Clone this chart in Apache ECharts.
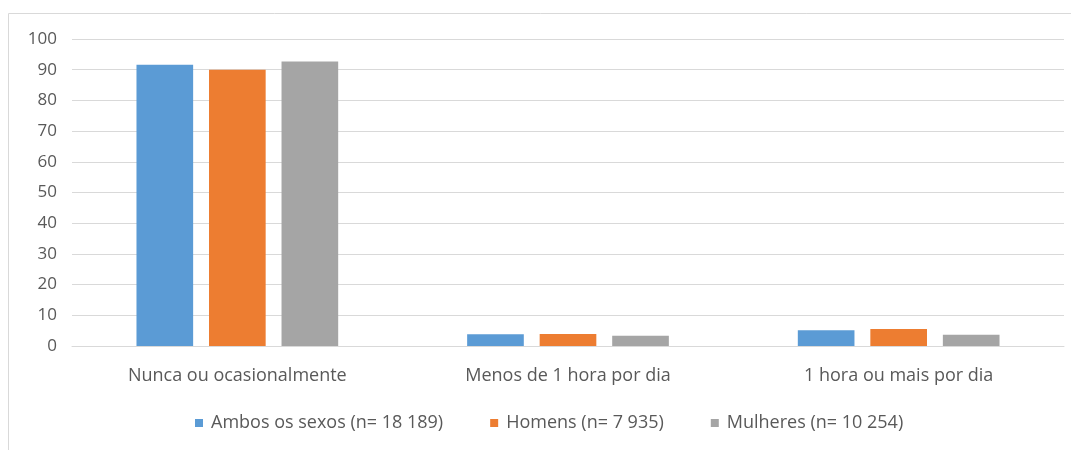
<!DOCTYPE html>
<html>
<head>
<meta charset="utf-8">
<script src="https://cdn.jsdelivr.net/npm/echarts@6/dist/echarts.min.js"></script>
<style>html,body{margin:0;padding:0;background:#fff;}#c{width:1071px;height:450px;}</style>
</head>
<body>
<div id="c"></div>
<script>
var categories = ['Nunca ou ocasionalmente', 'Menos de 1 hora por dia', '1 hora ou mais por dia'];
var seriesNames = ['Ambos os sexos (n= 18 189)', 'Homens (n= 7 935)', 'Mulheres (n= 10 254)'];
var ambos = [91.6, 3.8, 5.1];
var homens = [90.0, 3.9, 5.5];
var mulheres = [92.7, 3.3, 3.7];
var yTicks = [0, 10, 20, 30, 40, 50, 60, 70, 80, 90, 100];

var colors = ['#5B9BD5', '#ED7D31', '#A5A5A5'];
var font = 'Open Sans';
var chart = echarts.init(document.getElementById('c'));
var data = [ambos, homens, mulheres];
chart.setOption({
  animation: false,
  color: colors,
  graphic: [{
    type: 'rect', shape: {x: 8.5, y: 13.5, width: 1080, height: 450},
    style: {fill: 'none', stroke: '#D9D9D9', lineWidth: 1}, silent: true
  }],
  grid: {left: 72, right: 7, top: 39, bottom: 104, containLabel: false},
  legend: {
    data: seriesNames, top: 409, left: 190, itemWidth: 8, itemHeight: 8, itemGap: 47,
    icon: 'rect',
    textStyle: {color: '#595959', fontSize: 18, fontFamily: font, padding: [0, 0, 0, 3]}
  },
  xAxis: {
    type: 'category', data: categories,
    axisLine: {lineStyle: {color: '#D9D9D9'}},
    axisTick: {show: false},
    axisLabel: {color: '#595959', fontSize: 18, fontFamily: font, margin: 21}
  },
  yAxis: {
    type: 'value', min: yTicks[0], max: yTicks[yTicks.length - 1], interval: 10,
    axisLine: {show: false}, axisTick: {show: false},
    axisLabel: {color: '#595959', fontSize: 17, fontFamily: font, margin: 15},
    splitLine: {lineStyle: {color: '#D9D9D9'}}
  },
  series: seriesNames.map(function (n, i) {
    return {name: n, type: 'bar', data: data[i], barGap: '28%', barCategoryGap: '39%'};
  })
});
</script>
</body>
</html>
